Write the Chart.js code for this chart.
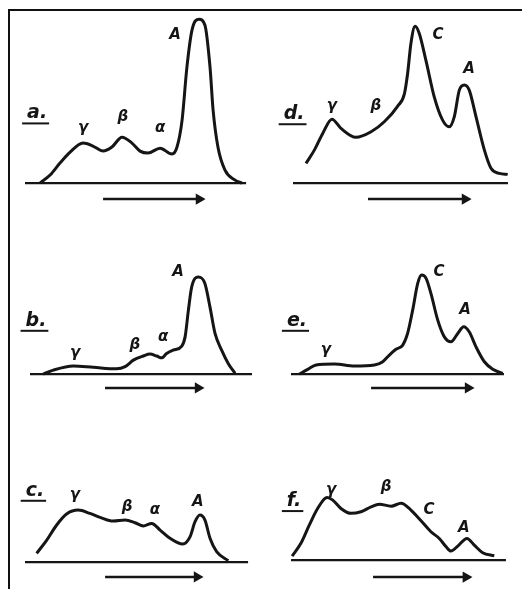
<!DOCTYPE html>
<html>
<head>
<meta charset="utf-8">
<script src="https://cdn.jsdelivr.net/npm/chart.js@4.4.1/dist/chart.umd.min.js"></script>
<style>
    html, body { margin: 0; padding: 0; background: #fff; }
    body { width: 522px; height: 589px; position: relative; overflow: hidden; }
    .frame { position: absolute; left: 8px; top: 9px; width: 520px; height: 590px;
             border-top: 2px solid #111; border-left: 2px solid #111; }
    canvas { position: absolute; }
</style>
</head>
<body>
<div class="frame"></div>
<canvas id="pa"></canvas>
<canvas id="pb"></canvas>
<canvas id="pc"></canvas>
<canvas id="pd"></canvas>
<canvas id="pe"></canvas>
<canvas id="pf"></canvas>
<script>
// migration distance (0-100) vs. relative optical density (0-100, tallest peak = 100)
const curveA = [[6.8,0],[11.4,4.9],[15.9,12.2],[20.5,18.9],[26.4,24.4],[30.9,22.6],[35.5,19.5],[39.5,22.0],
    [44.1,28.0],[48.6,24.4],[52.3,19.5],[55.9,18.3],[61.4,21.3],[66.8,17.7],[69.1,22.0],[71.4,38.4],
    [73.6,70.7],[75.9,93.3],[79.1,100],[81.8,96.3],[84.1,70.7],[85.5,44.5],[87.7,22.0],[90.9,7.9],
    [95.5,1.8],[98.6,0]];
const curveB = [[6.0,0],[10.6,2.4],[19.7,4.9],[28.8,4.1],[39.4,3.2],[43.2,4.5],[47.0,8.5],[51.5,11.0],
    [54.5,12.2],[57.6,11.0],[59.9,9.9],[62.1,12.6],[65.1,14.6],[69.0,17.1],[70.5,22.7],[72.0,39.0],
    [73.5,53.2],[76.5,59.3],[79.5,55.3],[81.8,41.0],[84.1,24.8],[87.1,14.6],[90.1,6.5],[93.2,0.4]];
const curveC = [[5.3,5.3],[9.9,13.4],[14.4,22.6],[18.9,29.3],[24.2,31.7],[29.5,29.7],[34.1,27.3],[40.1,25.0],
    [45.5,25.6],[50.0,24.0],[53.8,22.0],[57.6,23.6],[61.4,19.5],[65.9,14.5],[71.7,11.0],[75.0,15.4],
    [77.3,24.6],[79.5,28.7],[81.8,25.6],[84.1,14.5],[87.1,6.3],[92.4,0.8]];
const curveD = [[5.9,12.0],[9.7,20.1],[13.5,30.3],[17.7,39.0],[21.8,33.4],[28.6,27.9],[35.5,31.3],[41.5,37.4],
    [47.6,47.0],[50.6,54.3],[52.1,66.9],[53.6,85.2],[55.5,95.7],[57.4,91.3],[60.5,74.4],[64.2,52.6],
    [68.0,38.4],[71.0,34.3],[73.3,40.4],[75.6,56.7],[77.9,59.8],[80.1,56.7],[83.2,40.4],[87.0,20.1],
    [90.0,9.0],[93.8,5.9],[97.6,5.3]];
const curveE = [[3.8,0],[7.6,2.9],[11.4,5.5],[19.7,6.1],[28.8,4.9],[37.9,5.5],[41.7,7.5],[44.7,11.6],
    [47.7,15.1],[50.8,17.7],[53.0,24.8],[55.3,39.0],[57.6,55.3],[59.4,60.4],[61.4,58.4],[63.6,49.2],
    [66.7,32.9],[69.7,22.7],[72.7,19.7],[75.8,24.8],[78.5,28.8],[81.0,25.8],[84.1,16.6],[87.9,7.5],
    [91.7,2.9],[96.2,0.4]];
const curveF = [[0.5,2.4],[4.5,10.2],[8.3,21.3],[12.1,31.5],[16.4,38.2],[19.0,36.6],[22.7,31.5],[27.3,28.5],
    [31.8,29.5],[36.4,32.5],[40.1,34.1],[45.5,32.9],[50.0,34.6],[54.5,30.5],[59.1,24.0],[63.6,17.3],
    [67.4,13.2],[70.5,8.1],[72.7,5.5],[75.8,8.5],[80.0,13.2],[83.3,9.1],[87.1,4.5],[92.4,2.6]];

// strip length and direction-of-migration arrow (from, to, level) per panel
const stripLength = { a: 100.5, b: 100.9, c: 101.4, d: 97.7, e: 96.8, f: 97.7 };
const arrows = { a: [35.5, 79.1, -9.8], b: [34.1, 76.4, -8.5], c: [36.4, 78.2, -9.1],
                 d: [34.1, 78.2, -9.8], e: [36.4, 80.5, -8.5], f: [37.3, 79.5, -10.4] };

// fraction labels: [text, x, y]
const labelsA = [['a.', 5.5, 42.5], ['γ', 26.4, 33.5], ['β', 44.5, 40.2], ['α', 61.4, 33.5], ['A', 68.2, 90.2]];
const labelsB = [['b.', 2.7, 32.5], ['γ', 20.5, 12.8], ['β', 47.7, 17.7], ['α', 60.5, 22.6], ['A', 67.3, 62.2]];
const labelsC = [['c.', 4.5, 43.5], ['γ', 22.7, 40.9], ['β', 46.4, 33.5], ['α', 59.1, 31.7], ['A', 78.6, 36.6]];
const labelsD = [['d.', 0.5, 42], ['γ', 17.7, 47], ['β', 37.7, 47], ['C', 65.9, 90.2], ['A', 80, 69.5]];
const labelsE = [['e.', 2.7, 32.5], ['γ', 15.9, 14.6], ['C', 67.3, 62.2], ['A', 79.1, 39.0]];
const labelsF = [['f.', 1.4, 36], ['γ', 18.2, 42.7], ['β', 43.2, 44.5], ['C', 62.7, 30.5], ['A', 78.6, 19.5]];

// page layout: strip origin (left end of baseline) in pixels
const PX_X = 2.2, PX_Y = 1.64;
const X_MIN = -15, X_MAX = 105, Y_MIN = -14, Y_MAX = 105;
const INK = '#151515';

const labelPlugin = {
    id: 'labels',
    afterDatasetsDraw(chart, args, opts) {
        const ctx = chart.ctx;
        const sx = chart.scales.x, sy = chart.scales.y;
        ctx.save();
        ctx.fillStyle = INK;
        ctx.strokeStyle = INK;
        ctx.textAlign = 'center';
        ctx.textBaseline = 'middle';
        opts.items.forEach(function (l, i) {
            const px = sx.getPixelForValue(l[1]);
            const py = sy.getPixelForValue(l[2]);
            if (i === 0) {
                // panel letter, underlined
                ctx.font = 'bold italic 19px "DejaVu Sans"';
                ctx.fillText(l[0], px, py);
                const w = ctx.measureText(l[0]).width;
                ctx.lineWidth = 2;
                ctx.beginPath();
                ctx.moveTo(px - w / 2 - 5, py + 10);
                ctx.lineTo(px + w / 2 + 2, py + 10);
                ctx.stroke();
            } else {
                ctx.font = 'bold italic 15px "DejaVu Sans"';
                ctx.fillText(l[0], px, py);
            }
        });
        ctx.restore();
    }
};

function makePanel(id, x0, y0, curve, key, labels) {
    const canvas = document.getElementById(id);
    const w = Math.round((X_MAX - X_MIN) * PX_X);
    const h = Math.round((Y_MAX - Y_MIN) * PX_Y);
    canvas.width = w;
    canvas.height = h;
    canvas.style.left = (x0 + X_MIN * PX_X) + 'px';
    canvas.style.top = (y0 - Y_MAX * PX_Y) + 'px';
    const arr = arrows[key];

    return new Chart(canvas.getContext('2d'), {
        type: 'line',
        data: {
            datasets: [{
                data: curve.map(p => ({ x: p[0], y: p[1] })),
                borderColor: INK,
                borderWidth: 3,
                pointRadius: 0,
                cubicInterpolationMode: 'monotone',
                fill: false,
                clip: false
            }, {
                data: [{ x: 0, y: 0 }, { x: stripLength[key], y: 0 }],
                borderColor: INK,
                borderWidth: 2.2,
                pointRadius: 0,
                clip: false
            }, {
                data: [{ x: arr[0], y: arr[2] }, { x: arr[1], y: arr[2] }],
                borderColor: INK,
                backgroundColor: INK,
                borderWidth: 2.5,
                pointStyle: 'triangle',
                pointRotation: 90,
                pointRadius: [0, 4],
                clip: false
            }]
        },
        options: {
            responsive: false,
            animation: false,
            devicePixelRatio: 1,
            layout: { padding: 0, autoPadding: false },
            plugins: {
                legend: { display: false },
                tooltip: { enabled: false },
                labels: { items: labels }
            },
            scales: {
                x: { type: 'linear', min: X_MIN, max: X_MAX, display: false },
                y: { type: 'linear', min: Y_MIN, max: Y_MAX, display: false }
            }
        },
        plugins: [labelPlugin]
    });
}

makePanel('pa', 25, 183, curveA, 'a', labelsA);
makePanel('pd', 293, 183, curveD, 'd', labelsD);
makePanel('pb', 30, 374, curveB, 'b', labelsB);
makePanel('pe', 291, 374, curveE, 'e', labelsE);
makePanel('pc', 25, 562, curveC, 'c', labelsC);
makePanel('pf', 291, 560, curveF, 'f', labelsF);
</script>
</body>
</html>
